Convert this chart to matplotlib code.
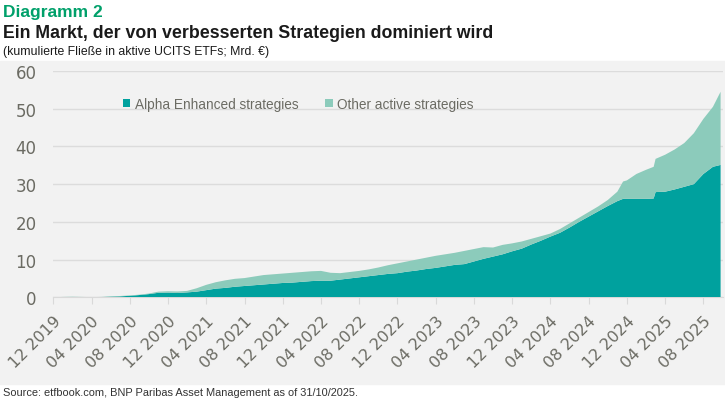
import matplotlib.pyplot as plt
from matplotlib.patches import Rectangle

# months since 12/2019 (data up to 31/10/2025)
months = [0, 1, 2, 3, 4, 5, 6, 7, 8, 9, 10, 11, 12, 13, 14, 15, 16, 17, 18, 19,
          20, 21, 22, 23, 24, 25, 26, 27, 28, 29, 30, 31, 32, 33, 34, 35, 36, 37,
          38, 39, 40, 41, 42, 43, 44, 45, 46, 47, 48, 49, 50, 51, 52, 53, 54, 55,
          56, 57, 58, 59, 59.6, 60, 61, 62, 62.8, 63, 64, 65, 66, 67, 68, 69, 69.8]

# cumulative flows, bn EUR
alpha_enhanced = [0.0, 0.0, 0.0, 0.0, 0.0, 0.05, 0.15, 0.25, 0.4, 0.6, 0.85, 1.2, 1.25,
                  1.15, 1.3, 1.5, 1.9, 2.3, 2.5, 2.8, 3.0, 3.2, 3.4, 3.6, 3.8, 3.9, 4.1,
                  4.3, 4.4, 4.4, 4.7, 5.0, 5.3, 5.6, 5.9, 6.2, 6.4, 6.8, 7.1, 7.5, 7.8,
                  8.2, 8.6, 8.8, 9.5, 10.2, 10.8, 11.4, 12.2, 12.9, 14.0, 15.0, 16.1,
                  17.1, 18.5, 20.0, 21.4, 22.8, 24.2, 25.5, 26.1, 26.1, 26.1, 26.1,
                  26.2, 27.9, 28.0, 28.6, 29.3, 30.0, 32.7, 34.6, 35.1]
total = [0.0, 0.1, 0.15, 0.1, 0.05, 0.1, 0.25, 0.35, 0.5, 0.7, 1.0, 1.5, 1.6,
         1.55, 1.7, 2.4, 3.3, 4.0, 4.5, 4.9, 5.1, 5.5, 5.9, 6.1, 6.3, 6.5, 6.7,
         6.9, 7.0, 6.5, 6.4, 6.7, 7.0, 7.4, 7.9, 8.5, 9.0, 9.5, 10.0, 10.5, 11.0,
         11.4, 11.8, 12.3, 12.8, 13.3, 13.2, 13.9, 14.3, 14.8, 15.5, 16.2, 16.9,
         18.1, 19.6, 21.1, 22.6, 24.1, 25.8, 28.0, 30.7, 31.0, 32.7, 33.8,
         34.6, 36.7, 37.8, 39.2, 40.9, 43.5, 47.3, 50.5, 54.5]
other_active = [t - a for t, a in zip(total, alpha_enhanced)]

tick_labels = ["12 2019", "04 2020", "08 2020", "12 2020", "04 2021", "08 2021",
               "12 2021", "04 2022", "08 2022", "12 2022", "04 2023", "08 2023",
               "12 2023", "04 2024", "08 2024", "12 2024", "04 2025", "08 2025"]
tick_pos = [4 * i for i in range(len(tick_labels))]

dark = "#00a19e"
light = "#8ccbbb"
grey_bg = "#f2f2f2"
txt = "#6b6b63"
sans = ["Liberation Sans", "DejaVu Sans"]

W, H = 725, 402
fig = plt.figure(figsize=(W / 100, H / 100), dpi=100)
fig.patch.set_facecolor("white")
fig.patches.append(Rectangle((0, 1 - 385 / H), 1, (385 - 62) / H,
                             transform=fig.transFigure, color=grey_bg, zorder=-5))

ax = fig.add_axes([53.3 / W, 1 - 298.3 / H, (722.5 - 53.3) / W, (298.3 - 72) / H])
ax.set_zorder(2)
ax.set_facecolor(grey_bg)
ax.stackplot(months, alpha_enhanced, other_active, colors=[dark, light],
             labels=["Alpha Enhanced strategies", "Other active strategies"],
             linewidth=0, zorder=3)

ax.set_xlim(0, 70)
ax.set_ylim(0, 60)
ax.set_yticks(range(0, 61, 10))
ax.yaxis.grid(True, color="#dcdcdc", linewidth=1)
ax.set_axisbelow(True)
for s in ["top", "right", "left"]:
    ax.spines[s].set_visible(False)
ax.spines["bottom"].set_color("#d9d9d9")
ax.tick_params(axis="y", length=0, pad=12, labelsize=12, labelcolor=txt)
ax.set_xticks(tick_pos)
ax.set_xticklabels(tick_labels, rotation=45, ha="right", rotation_mode="anchor",
                   fontsize=11.5, color=txt)
ax.tick_params(axis="x", length=5, color="#d9d9d9", pad=6)

leg = ax.legend(loc="center left", bbox_to_anchor=(123 / W, 1 - 104.7 / H),
                bbox_transform=fig.transFigure, ncol=2, frameon=False,
                handlelength=0.55, handleheight=0.55, handletextpad=0.3,
                columnspacing=2.0, borderpad=0, borderaxespad=0,
                prop={"family": sans, "size": 9.8})
for t in leg.get_texts():
    t.set_color(txt)

fig.text(3 / W, 1 - 12 / H, "Diagramm 2", color="#00a06a", fontsize=12.5,
         fontweight="bold", family=sans, va="center")
fig.text(3 / W, 1 - 33 / H, "Ein Markt, der von verbesserten Strategien dominiert wird",
         color="#1a1a1a", fontsize=12.8, fontweight="bold", family=sans, va="center")
fig.text(3 / W, 1 - 52 / H, "(kumulierte Fließe in aktive UCITS ETFs; Mrd. €)",
         color="#1a1a1a", fontsize=8.8, family=sans, va="center")
fig.text(3 / W, 1 - 393 / H,
         "Source: etfbook.com, BNP Paribas Asset Management as of 31/10/2025.",
         color="#333333", fontsize=7.9, family=sans, va="center")

fig.savefig("out.png", dpi=100)
